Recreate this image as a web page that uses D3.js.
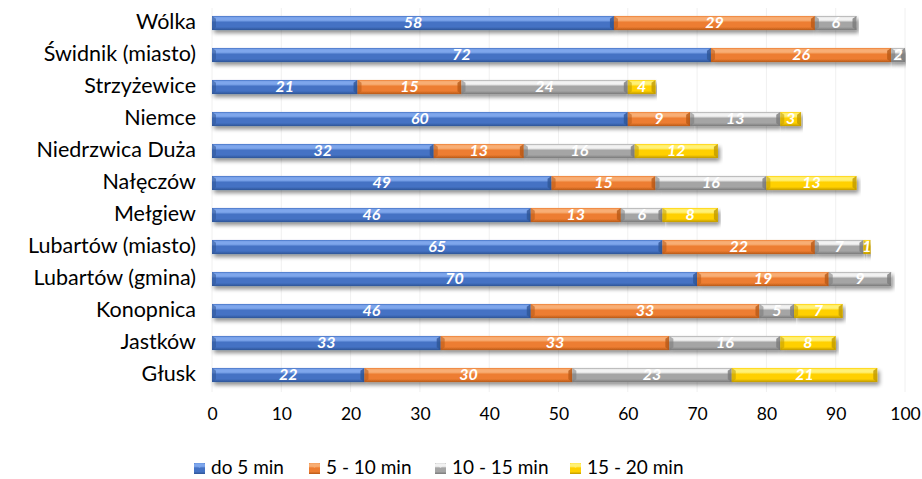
<!DOCTYPE html>
<html><head><meta charset="utf-8">
<script src="https://cdn.jsdelivr.net/npm/d3@7"></script>
<style>body{margin:0;background:#fff;} svg{display:block;}</style>
</head><body>
<svg id="c" width="922" height="479"></svg>
<script>
const categories = ["Wólka","Świdnik (miasto)","Strzyżewice","Niemce","Niedrzwica Duża","Nałęczów","Mełgiew","Lubartów (miasto)","Lubartów (gmina)","Konopnica","Jastków","Głusk"];
const seriesNames = ["do 5 min","5 - 10 min","10 - 15 min","15 - 20 min"];
const s1 = [58,72,21,60,32,49,46,65,70,46,33,22];
const s2 = [29,26,15,9,13,15,13,22,19,33,33,30];
const s3 = [6,2,24,13,16,16,6,7,9,5,16,23];
const s4 = [0,0,4,3,12,13,8,1,0,7,8,21];
const xTicks = [0,10,20,30,40,50,60,70,80,90,100];

const colors = [
  {base:"#4472C4", light:"#7EA6EC", dark:"#2F5597"},
  {base:"#ED7D31", light:"#F8AE74", dark:"#B85A18"},
  {base:"#A5A5A5", light:"#F2F2F2", dark:"#7A7A7A"},
  {base:"#FFD000", light:"#FFF176", dark:"#C09A00"}
];
const FONT = "Lato, 'Open Sans', sans-serif";

const svg = d3.select("#c");
const defs = svg.append("defs");
colors.forEach((c,i)=>{
  const g = defs.append("linearGradient").attr("id","g"+i).attr("x1",0).attr("y1",0).attr("x2",0).attr("y2",1);
  g.append("stop").attr("offset","0%").attr("stop-color",c.base);
  g.append("stop").attr("offset","12%").attr("stop-color",c.light);
  g.append("stop").attr("offset","30%").attr("stop-color",c.light);
  g.append("stop").attr("offset","45%").attr("stop-color",c.base);
  g.append("stop").attr("offset","78%").attr("stop-color",c.base);
  g.append("stop").attr("offset","100%").attr("stop-color",c.dark);
});
const f = defs.append("filter").attr("id","sh").attr("x","-5%").attr("y","-50%").attr("width","110%").attr("height","250%");
f.append("feGaussianBlur").attr("in","SourceAlpha").attr("stdDeviation",2.2).attr("result","b");
f.append("feOffset").attr("in","b").attr("dx",2).attr("dy",3).attr("result","o");
f.append("feComponentTransfer").attr("in","o").attr("result","o2").append("feFuncA").attr("type","linear").attr("slope",0.45);
const fm = f.append("feMerge");
fm.append("feMergeNode").attr("in","o2");
fm.append("feMergeNode").attr("in","SourceGraphic");

const x = d3.scaleLinear().domain([0,100]).range([212,905]);
const y = d3.scaleBand().domain(categories).range([7,391]).paddingInner(0.56).paddingOuter(0.28);

// gridlines
svg.append("g").selectAll("line").data(xTicks).join("line")
  .attr("x1",d=>x(d)).attr("x2",d=>x(d)).attr("y1",8).attr("y2",392)
  .attr("stroke","#f0f0f0").attr("stroke-width",1);

const data = categories.map((c,i)=>({cat:c, vals:[s1[i],s2[i],s3[i],s4[i]]}));
const stack = d3.stack().keys([0,1,2,3]).value((d,k)=>d.vals[k])(data);

const gBars = svg.append("g");
stack.forEach((layer,k)=>{
  const g = gBars.append("g");
  layer.forEach(d=>{
    if (d[1]-d[0] <= 0) return;
    const x0 = x(d[0]), x1 = x(d[1]), yy = y(d.data.cat), h = y.bandwidth();
    const w = x1-x0;
    const seg = g.append("g").attr("filter","url(#sh)");
    seg.append("rect").attr("x",x0).attr("y",yy).attr("width",w).attr("height",h).attr("fill","url(#g"+k+")");
    const b = Math.min(4, w/2);
    seg.append("path").attr("d",`M${x0},${yy}L${x0+b},${yy+b*0.7}L${x0+b},${yy+h-b*0.7}L${x0},${yy+h}Z`).attr("fill",colors[k].dark).attr("opacity",0.55);
    seg.append("path").attr("d",`M${x1},${yy}L${x1-b},${yy+b*0.7}L${x1-b},${yy+h-b*0.7}L${x1},${yy+h}Z`).attr("fill",colors[k].dark).attr("opacity",0.8);
  });
});
// labels
const gLab = svg.append("g");
stack.forEach((layer,k)=>{
  layer.forEach(d=>{
    const v = d[1]-d[0];
    if (v <= 0) return;
    gLab.append("text").attr("x",(x(d[0])+x(d[1]))/2).attr("y",y(d.data.cat)+y.bandwidth()/2+1)
      .attr("text-anchor","middle").attr("dominant-baseline","middle")
      .attr("font-family",FONT).attr("font-size",16).attr("font-weight","bold").attr("font-style","italic")
      .attr("fill","#fff").text(v);
  });
});

// category labels
svg.append("g").selectAll("text").data(categories).join("text")
  .attr("x",196).attr("y",d=>y(d)+y.bandwidth()/2+1)
  .attr("text-anchor","end").attr("dominant-baseline","middle")
  .attr("font-family",FONT).attr("font-size",21.5).attr("fill","#000").text(d=>d);

// x axis
const ax = svg.append("g").attr("transform","translate(0,408)").call(d3.axisBottom(x).tickValues(xTicks).tickSize(0).tickPadding(0));
ax.select(".domain").remove();
ax.selectAll("text").attr("font-family",FONT).attr("font-size",17.5).attr("fill","#000");

// legend
const lg = svg.append("g");
const lx = [194, 309, 435, 570];
seriesNames.forEach((n,k)=>{
  const g = lg.append("g").attr("transform",`translate(${lx[k]},463)`);
  g.append("rect").attr("width",11).attr("height",11).attr("fill","url(#g"+k+")");
  g.append("path").attr("d","M0,0L11,0L5.5,5Z").attr("fill",colors[k].light).attr("opacity",0.7);
  g.append("text").attr("x",17).attr("y",6).attr("dominant-baseline","middle")
    .attr("font-family",FONT).attr("font-size",19).attr("fill","#000").text(n);
});
</script>
</body></html>
